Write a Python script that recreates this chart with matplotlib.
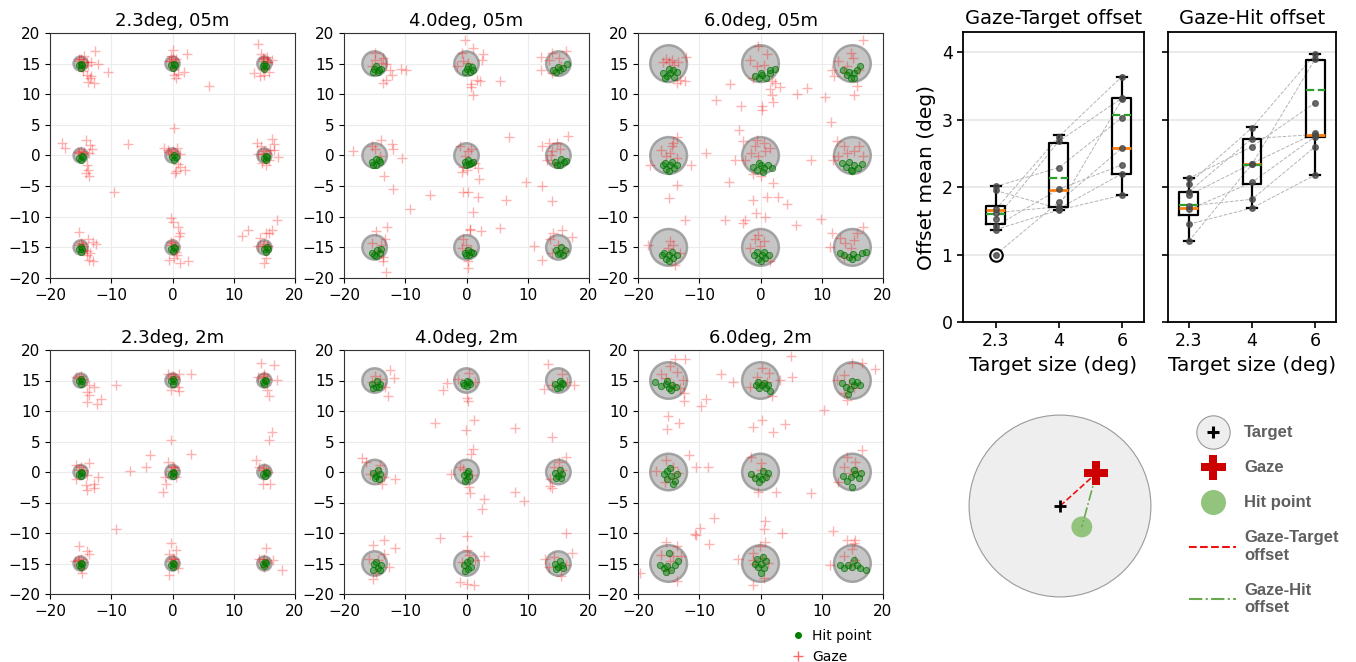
import matplotlib
matplotlib.use("Agg")
import matplotlib.pyplot as plt
from matplotlib.patches import Circle
from matplotlib.lines import Line2D
from matplotlib.legend_handler import HandlerTuple

# ---------------- scatter panels ----------------
target_x = [-15, 0, 15, -15, 0, 15, -15, 0, 15]
target_y = [15, 15, 15, 0, 0, 0, -15, -15, -15]
panel_titles = ["2.3deg, 05m", "4.0deg, 05m", "6.0deg, 05m",
                "2.3deg, 2m", "4.0deg, 2m", "6.0deg, 2m"]
panel_sizes = [2.3, 4.0, 6.0, 2.3, 4.0, 6.0]

gaze_23_05 = [
    (-15.2, 15.4), (-14.6, 15.2), (-15.0, 15.8), (-14.5, 16.3), (-15.3, 15.8), (-14.0, 15.2),
    (-13.8, 14.7), (-14.8, 14.5), (-12.6, 17.1), (-12.2, 15.0), (-13.3, 15.3), (-14.0, 13.2),
    (-13.3, 13.0), (-13.8, 12.0), (-12.8, 11.8), (-13.5, 12.6), (-10.5, 13.7), (-14.6, 13.8),
    (-0.2, 15.4), (0.4, 15.2), (0.0, 15.7), (0.1, 17.2), (-0.3, 16.2), (0.5, 15.8), (2.4, 16.6),
    (0.2, 14.2), (0.3, 13.1), (0.9, 13.3), (1.8, 13.7), (0.6, 12.7), (-0.5, 15.5), (6.0, 11.3),
    (14.8, 15.4), (15.4, 15.3), (15.0, 15.7), (14.0, 18.2), (14.4, 16.6), (15.5, 16.0),
    (16.2, 15.6), (13.3, 13.4), (14.3, 13.0), (15.0, 13.2), (15.8, 13.6), (14.8, 14.2),
    (15.6, 15.2), (14.7, 15.9),
    (-15.2, 0.4), (-14.6, 0.3), (-14.9, 0.8), (-18.0, 2.0), (-17.5, 1.3), (-14.2, 2.6),
    (-13.5, 1.7), (-14.0, -1.6), (-13.8, -2.3), (-14.1, -2.9), (-13.6, -3.3), (-14.5, 0.6),
    (-13.6, 0.4), (-15.5, 0.6), (-7.3, 1.8), (-9.6, -5.9), (-13.2, 1.1),
    (-0.2, 0.2), (0.4, 0.4), (0.1, 0.8), (0.2, 4.5), (-1.4, 1.3), (-0.8, 0.9), (0.8, 1.2),
    (1.2, 0.3), (0.9, -1.4), (0.6, -2.6), (0.4, -2.9), (1.3, -1.8), (2.0, -2.3), (-0.5, 0.5),
    (14.8, 0.3), (15.3, 0.4), (15.0, 0.7), (13.8, 2.1), (14.5, 1.5), (16.2, 2.7), (16.5, 1.8),
    (15.9, 0.9), (17.3, -0.2), (14.6, -1.3), (15.2, -1.6), (15.7, -0.8), (14.0, 0.2), (16.6, 0.9),
    (-15.2, -14.6), (-14.6, -14.8), (-15.0, -14.3), (-15.3, -12.5), (-13.8, -13.7),
    (-13.0, -14.2), (-12.5, -14.5), (-13.9, -15.6), (-14.0, -16.3), (-13.7, -17.0),
    (-12.9, -17.3), (-14.8, -14.4), (-14.5, -15.5), (-13.5, -16.0),
    (-0.2, -14.6), (0.4, -14.8), (0.0, -14.3), (-0.2, -10.2), (0.0, -10.8), (0.9, -11.7),
    (1.3, -12.6), (1.0, -13.1), (-0.2, -14.2), (0.5, -15.7), (0.3, -16.8), (-0.5, -17.1),
    (1.2, -17.5), (2.5, -17.3), (0.7, -16.2),
    (14.8, -14.7), (15.4, -14.8), (15.0, -14.4), (17.0, -10.6), (16.3, -12.2), (15.8, -12.6),
    (12.3, -12.2), (11.3, -13.1), (14.3, -13.5), (15.3, -12.6), (13.9, -14.7), (15.0, -17.6),
    (15.3, -16.7), (15.6, -14.8),
]
hit_23_05 = [
    (-15.3, 14.7), (-14.7, 14.8), (-15.0, 14.3), (-14.9, 15.0),
    (-0.2, 14.7), (0.4, 14.8), (0.1, 14.3), (0.2, 15.0),
    (14.7, 14.6), (15.2, 14.6), (14.9, 14.2), (15.0, 14.9),
    (-15.2, -0.4), (-14.6, -0.3), (-14.9, -0.8), (-14.8, -0.1),
    (-0.1, -0.3), (0.5, -0.2), (0.2, -0.7), (0.3, 0.0),
    (14.9, -0.4), (15.5, -0.3), (15.2, -0.8), (15.3, -0.1),
    (-15.3, -15.3), (-14.7, -15.2), (-15.0, -15.7), (-14.9, -15.0),
    (-0.2, -15.2), (0.4, -15.1), (0.1, -15.6), (0.2, -14.9),
    (15.0, -15.3), (15.6, -15.2), (15.3, -15.7), (15.4, -15.0),
]

gaze_40_05 = [
    (-14.9, 16.7), (-13.7, 15.9), (-13.2, 14.9), (-12.5, 13.9), (-12.2, 13.2), (-13.1, 12.4),
    (-13.6, 11.9), (-10.7, 14.1), (-9.8, 14.0), (-14.9, 15.6), (-14.0, 15.1), (-15.5, 14.6),
    (-0.2, 18.8), (1.1, 17.6), (2.7, 16.5), (2.5, 15.6), (-0.6, 15.4), (-1.6, 14.6), (1.7, 12.4),
    (2.2, 12.1), (0.8, 11.6), (1.0, 9.9), (0.7, 11.2), (5.4, 12.2), (0.3, 15.1), (-0.8, 16.7),
    (12.1, 16.1), (13.9, 16.8), (15.1, 15.9), (16.3, 17.0), (12.1, 14.0), (13.9, 13.5),
    (13.4, 15.6), (15.5, 14.6),
    (-18.6, 0.7), (-14.0, 2.6), (-12.2, 1.9), (-12.0, 1.1), (-10.5, -0.4), (-13.4, -3.3),
    (-12.0, -5.4), (-9.3, -8.8), (-6.0, -6.4), (-14.9, 1.0), (-14.1, -0.1), (-15.5, 1.5),
    (-1.0, 1.5), (0.8, 1.0), (-0.5, -1.8), (-0.7, -2.7), (0.0, -2.3), (1.4, -1.2), (1.8, -2.0),
    (2.0, -3.9), (-0.5, -6.0), (0.3, -6.0), (1.8, -6.7), (1.0, -9.2), (0.5, -12.1), (2.4, -12.3),
    (5.5, -11.9), (6.9, 3.1), (6.4, -7.2), (9.7, -4.4), (12.4, -4.9), (13.9, -7.4), (16.6, 3.2),
    (-0.2, -0.1), (0.3, 0.7),
    (12.3, 1.5), (13.4, 2.0), (14.7, 2.0), (15.2, 1.0), (13.8, 0.1), (13.1, -0.7), (14.3, -1.2),
    (14.0, 0.7),
    (-14.8, -12.4), (-13.0, -11.7), (-13.3, -13.6), (-14.0, -14.6), (-13.6, -16.5),
    (-13.7, -17.3), (-13.2, -19.1), (-15.4, -14.3), (-14.4, -15.6),
    (0.5, -12.0), (-0.5, -13.7), (-0.1, -14.6), (0.7, -15.4), (0.3, -17.3), (0.3, -18.4),
    (-0.8, -15.1),
    (11.1, -14.7), (12.3, -17.0), (13.7, -13.7), (14.2, -12.6), (15.6, -12.1), (17.2, -13.3),
    (15.0, -14.6), (16.1, -15.6), (13.9, -15.9),
]
hit_40_05 = [
    (-15.1, 14.2), (-14.5, 13.6), (-14.0, 14.1), (-14.8, 14.6), (-15.3, 13.7), (-14.3, 13.9),
    (0.0, 14.2), (0.6, 13.6), (1.1, 14.0), (0.3, 14.6), (-0.2, 13.7), (0.9, 14.4),
    (14.6, 13.7), (15.2, 13.9), (15.8, 14.3), (16.4, 14.9), (15.0, 14.4), (14.2, 13.9),
    (-15.4, -1.0), (-14.8, -1.5), (-14.2, -1.1), (-14.7, -0.6), (-15.2, -1.6), (-14.3, -0.8),
    (-0.3, -1.0), (0.4, -1.4), (1.0, -1.0), (0.2, -0.7), (-0.1, -1.5), (0.8, -1.3),
    (14.5, -1.0), (15.2, -1.5), (15.9, -1.1), (15.4, -0.5), (14.8, -1.6), (16.2, -0.9),
    (-15.4, -16.0), (-14.8, -16.4), (-14.2, -16.0), (-14.6, -15.5), (-15.1, -16.3), (-14.0, -15.3),
    (-0.3, -15.9), (0.4, -16.3), (1.0, -16.0), (0.2, -15.5), (-0.1, -16.2), (0.8, -15.7),
    (14.6, -15.5), (15.3, -15.9), (16.0, -15.5), (15.5, -15.0), (14.9, -16.1), (15.8, -16.2),
]

gaze_60_05 = [
    (-15.5, 15.8), (-14.5, 15.6), (-15.0, 15.2), (-14.2, 14.8), (-13.5, 15.2), (-16.0, 15.3),
    (-13.6, 11.8), (-12.4, 12.1), (-13.2, 12.4), (-12.1, 16.1),
    (-0.4, 17.8), (-1.7, 15.6), (0.5, 14.8), (-0.6, 14.6), (1.0, 16.5), (-1.3, 12.7), (1.8, 12.1),
    (2.4, 11.8), (3.2, 11.2), (-5.0, 11.6), (-7.3, 9.0), (-3.2, 8.0), (1.8, 9.8), (2.1, 8.8),
    (0.2, 8.1), (0.3, 7.4), (5.9, 10.0), (7.6, 11.0), (10.5, 9.5), (11.5, 5.4), (1.6, 10.8),
    (14.7, 16.8), (16.8, 18.8), (12.7, 15.4), (14.1, 14.6), (11.6, 14.0), (12.0, 12.9),
    (13.6, 13.6), (15.1, 15.9), (15.7, 11.3), (15.2, 9.8), (16.0, 13.9),
    (-14.8, 0.4), (-14.5, 1.5), (-15.4, -0.1), (-16.2, 0.9), (-13.7, -0.4), (-18.1, -1.5),
    (-11.4, -1.5), (-13.7, 3.0), (-13.7, -4.8), (-15.0, -7.0), (-12.4, -10.6), (-8.9, 0.4),
    (-14.3, 2.0),
    (-3.5, 4.1), (-2.9, 2.4), (-1.6, 0.4), (-0.9, 1.5), (0.5, 2.1), (1.6, 1.2), (-0.4, -0.1),
    (-4.1, -0.7), (-2.6, -0.8), (-1.2, -3.1), (0.0, -3.3), (2.1, -4.5), (-5.1, -4.4), (1.0, -6.8),
    (2.8, -6.7), (4.3, -7.9), (-1.2, -7.2), (-0.7, -9.4), (0.8, -10.0), (-2.6, -10.5),
    (-2.9, -11.1), (-5.8, -10.5), (5.8, -11.4), (9.9, -10.4), (8.3, -0.8), (-0.6, 2.6), (0.7, 0.7),
    (12.5, 2.3), (13.6, 1.5), (14.1, 0.4), (12.7, -0.1), (15.2, 0.7), (16.0, 1.5), (11.9, -0.7),
    (16.8, -0.1),
    (-18.4, -14.6), (-14.8, -14.0), (-15.1, -15.1), (-14.3, -14.6), (-13.2, -15.9), (-14.0, -17.8),
    (-0.4, -12.9), (-0.9, -13.7), (0.5, -14.0), (-0.1, -14.8), (-1.7, -15.1), (1.5, -17.3),
    (11.6, -12.7), (11.4, -14.9), (13.0, -13.5), (13.8, -14.3), (14.7, -15.1), (15.7, -12.7),
    (16.8, -11.6), (13.6, -16.5), (15.2, -13.8),
]
hit_60_05 = [
    (-16.0, 13.5), (-15.3, 12.9), (-14.7, 13.4), (-14.1, 12.8), (-13.6, 13.6), (-15.0, 14.1),
    (-14.3, 14.0), (-15.6, 12.6),
    (-0.9, 12.9), (-0.3, 12.6), (0.3, 13.1), (0.9, 12.7), (1.5, 13.4), (2.3, 14.1), (0.0, 13.4),
    (1.6, 14.0),
    (13.5, 13.9), (14.1, 13.1), (14.7, 12.7), (15.2, 13.4), (15.8, 13.9), (16.2, 14.6),
    (14.4, 13.6), (15.3, 12.6),
    (-16.0, -1.6), (-15.4, -2.2), (-14.8, -1.5), (-14.2, -2.0), (-13.6, -1.6), (-15.0, -2.5),
    (-14.4, -1.1), (-15.6, -1.2),
    (-1.3, -1.8), (-0.6, -2.3), (0.0, -1.6), (0.6, -2.1), (1.2, -1.5), (1.9, -2.0), (0.4, -2.7),
    (-0.2, -1.2),
    (13.3, -1.2), (14.0, -1.8), (14.7, -2.3), (15.3, -1.6), (15.9, -2.0), (16.6, -1.4),
    (15.0, -2.6), (14.4, -1.0),
    (-16.1, -16.3), (-15.5, -16.9), (-14.9, -16.2), (-14.3, -16.8), (-13.7, -16.3),
    (-15.0, -17.3), (-14.5, -15.8), (-15.7, -15.9),
    (-1.0, -16.3), (-0.4, -16.9), (0.2, -16.2), (0.8, -16.7), (1.4, -16.3), (0.0, -17.3),
    (0.6, -15.8), (-0.6, -15.8),
    (12.9, -16.0), (13.7, -16.2), (14.4, -16.6), (15.1, -16.1), (15.8, -16.5), (16.5, -16.0),
    (17.3, -15.8), (15.0, -16.9),
]

gaze_23_2 = [
    (-15.2, 15.4), (-14.6, 15.3), (-15.0, 15.8), (-13.6, 14.3), (-12.8, 13.9), (-14.0, 13.1),
    (-13.6, 12.7), (-14.0, 11.4), (-11.7, 12.0), (-12.3, 11.2), (-9.2, 14.3), (-14.7, 14.7),
    (-15.7, 15.5),
    (-0.2, 15.4), (0.4, 15.3), (0.0, 15.8), (-0.8, 16.1), (1.1, 16.1), (3.1, 16.1), (-0.2, 13.4),
    (1.0, 13.2), (0.9, 13.9), (0.3, 15.5),
    (14.8, 15.4), (15.4, 15.3), (15.0, 15.8), (14.4, 17.9), (16.5, 17.6), (17.1, 15.1),
    (15.5, 13.4), (15.7, 12.4), (14.0, 15.5), (15.0, 16.1),
    (-15.2, 0.4), (-14.6, 0.3), (-14.9, 0.8), (-15.7, -1.1), (-14.0, -0.5), (-14.2, -2.1),
    (-14.0, -3.0), (-12.8, -1.9), (-12.2, -0.8), (-12.8, -2.7), (-13.6, 1.4), (-15.7, 1.2),
    (-0.2, 0.2), (0.4, 0.4), (0.1, 0.8), (-6.9, 0.2), (-4.3, 0.8), (-3.7, 2.8), (-0.3, 5.2),
    (3.0, 3.0), (-0.8, 1.6), (-1.0, -1.9), (-1.6, -3.2), (-1.3, -0.8), (0.6, -0.8), (0.3, 0.8),
    (14.8, 0.3), (15.3, 0.4), (15.0, 0.7), (13.7, 1.9), (15.6, 0.0), (15.9, -1.9), (14.8, -1.9),
    (15.7, 5.3), (16.2, 6.5), (14.2, 0.8),
    (-9.2, -9.4),
    (-15.2, -14.6), (-14.6, -14.7), (-15.0, -14.3), (-15.2, -12.2), (-14.0, -13.0),
    (-13.7, -13.4), (-15.4, -14.4), (-14.7, -16.6), (-14.9, -15.8), (-15.9, -14.6),
    (-0.2, -14.6), (0.4, -14.7), (0.0, -14.3), (-0.2, -11.6), (0.6, -12.8), (-0.5, -13.4),
    (0.3, -14.2), (-0.5, -16.9), (0.9, -15.8),
    (14.8, -14.6), (15.4, -14.7), (15.0, -14.3), (15.3, -12.5), (14.2, -14.2), (16.4, -14.4),
    (17.9, -16.0), (15.0, -15.5),
]
hit_23_2 = [
    (-15.3, 14.9), (-14.7, 15.0), (-15.0, 14.5), (-14.9, 15.2),
    (-0.3, 14.9), (0.3, 15.0), (0.0, 14.5), (0.1, 15.2),
    (14.7, 14.8), (15.3, 14.9), (15.0, 14.4), (15.1, 15.1),
    (-15.3, -0.3), (-14.7, -0.2), (-15.0, -0.7), (-14.9, 0.0),
    (-0.3, -0.3), (0.3, -0.2), (0.0, -0.7), (0.1, 0.0),
    (14.8, -0.3), (15.4, -0.2), (15.1, -0.7), (15.2, 0.0),
    (-15.3, -15.2), (-14.7, -15.1), (-15.0, -15.6), (-14.9, -14.9),
    (-0.3, -15.2), (0.3, -15.1), (0.0, -15.6), (0.1, -14.9),
    (14.7, -15.0), (15.3, -14.9), (15.0, -15.4), (15.1, -14.7),
]

gaze_40_2 = [
    (-12.5, 16.7), (-11.8, 15.4), (-13.3, 13.9), (-12.8, 12.5), (-14.1, 15.3), (-14.9, 15.8),
    (-15.5, 14.7),
    (-3.2, 14.6), (-3.8, 13.4), (0.4, 16.2), (-1.4, 15.3), (1.4, 14.7), (0.1, 12.1), (0.2, 11.6),
    (1.2, 8.6), (-0.1, 6.9), (-5.2, 8.1), (7.9, 7.2), (14.0, 5.8),
    (13.3, 17.7), (12.6, 13.6), (14.0, 14.2), (17.6, 14.3), (15.6, 16.1), (16.4, 14.7),
    (-17.1, 2.3), (-16.4, 1.6), (-15.7, -0.3), (-14.1, 1.1), (-13.5, -0.8), (-13.8, -1.9),
    (-11.7, -1.2), (-14.6, 0.0),
    (1.1, 3.7), (0.8, 3.0), (-2.5, -0.4), (-1.0, 0.8), (0.9, -0.5), (0.4, -2.5), (0.5, -3.4),
    (2.8, -4.4), (2.6, -6.0), (-4.3, -10.9), (0.1, -10.5), (7.9, -3.3), (9.4, -4.7), (-0.5, 0.5),
    (16.2, 2.5), (15.1, 1.6), (13.7, -1.1), (13.6, -2.3), (14.0, -2.7), (15.6, 0.3), (14.3, 0.8),
    (-15.2, -12.0), (-13.5, -11.2), (-11.7, -12.4), (-13.5, -13.5), (-16.0, -14.3),
    (-12.7, -15.5), (-15.2, -17.6), (-14.8, -16.6), (-14.4, -14.4),
    (0.1, -12.8), (-0.7, -14.7), (1.4, -14.4), (-1.0, -18.0), (0.1, -18.3), (1.2, -18.6),
    (2.9, -13.8), (0.4, -13.6),
    (16.2, -10.0), (17.2, -13.2), (12.8, -14.3), (14.3, -13.9), (15.5, -17.1), (16.2, -15.3),
    (13.4, -15.5),
]
hit_40_2 = [
    (-15.4, 14.5), (-14.8, 14.0), (-14.2, 14.4), (-14.6, 14.9), (-15.2, 13.8), (-14.3, 13.9),
    (-0.6, 14.6), (0.0, 14.1), (0.5, 14.5), (0.1, 15.0), (-0.4, 14.2), (0.4, 14.8),
    (14.5, 14.5), (15.2, 14.0), (15.8, 14.4), (15.3, 14.9), (14.8, 13.8), (15.6, 14.6),
    (-15.3, -0.1), (-14.7, -0.7), (-14.1, -0.3), (-14.5, 0.3), (-15.0, -1.0), (-14.3, -1.2),
    (-0.4, -0.5), (0.1, -1.1), (0.4, -0.6), (0.0, -0.1), (-0.2, -1.4), (0.3, 0.2),
    (14.4, -0.1), (15.0, -0.7), (15.6, -0.3), (15.2, 0.3), (14.6, -1.0), (15.4, -1.0),
    (-15.1, -15.1), (-14.5, -15.7), (-13.9, -15.3), (-14.7, -14.7), (-15.2, -16.0), (-14.1, -16.0),
    (-0.4, -15.3), (0.2, -15.9), (0.7, -15.5), (0.1, -14.8), (-0.2, -16.3), (0.5, -14.4),
    (14.4, -15.0), (15.0, -15.6), (15.6, -15.2), (15.2, -14.6), (14.6, -15.9), (15.7, -15.8),
]

gaze_60_2 = [
    (-14.0, 18.6), (-12.4, 18.5), (-14.8, 17.3), (-16.2, 16.0), (-13.7, 16.4), (-12.6, 15.1),
    (-13.2, 13.7), (-12.5, 12.9), (-12.5, 11.6), (-14.3, 14.3), (-15.4, 15.4), (-15.1, 9.1),
    (-13.3, 8.1), (-15.2, 7.0), (-8.9, 12.0), (-9.7, 10.8), (-6.4, 16.0), (-4.5, 14.7),
    (0.2, 17.1), (1.4, 16.2), (-0.6, 15.6), (1.0, 14.8), (1.8, 12.4), (3.2, 15.1), (5.0, 19.0),
    (5.1, 15.5), (0.2, 8.5), (-1.2, 7.3), (2.1, 6.5), (4.0, 7.8), (10.3, 10.2), (-0.1, 14.5),
    (-1.7, 14.0),
    (14.9, 17.8), (16.6, 17.8), (18.7, 16.9), (13.6, 15.9), (12.5, 15.1), (15.2, 13.7),
    (13.6, 12.9), (14.1, 11.8), (14.4, 14.5),
    (-17.0, 0.1), (-15.4, 2.0), (-14.3, 0.9), (-14.5, -1.0), (-11.6, 2.8), (-10.6, 0.9),
    (-8.5, 0.9), (-13.5, -0.2), (-15.6, -1.6),
    (-1.5, 2.5), (0.1, 1.4), (0.0, 0.4), (1.0, -0.7), (-1.2, -0.7), (-0.4, -3.2), (2.6, -3.2),
    (8.3, -3.5), (16.5, 3.6), (0.7, -8.1), (0.6, -9.3), (3.5, -10.0), (-7.6, -7.5), (-9.8, -9.1),
    (-10.5, -10.3), (-10.7, -10.2), (-8.4, -11.8), (0.7, -11.4), (-3.6, -14.3), (-1.2, -14.4),
    (-19.7, -16.5), (11.9, -9.7), (15.5, -11.1), (11.4, -15.2),
    (14.1, 2.5), (15.5, 1.7), (13.6, 0.9), (14.6, -0.2), (12.7, -1.6), (15.7, 0.1),
    (-15.4, -11.4), (-13.7, -12.2), (-16.2, -13.6), (-14.3, -13.8), (-12.9, -13.8),
    (-15.1, -16.0), (-13.6, -17.9), (-14.8, -14.6),
    (-0.1, -12.2), (-1.2, -13.3), (0.2, -14.1), (-0.9, -15.1), (1.3, -14.9), (-1.3, -18.5),
    (0.5, -17.4),
    (14.1, -11.1), (14.9, -12.7), (13.6, -13.8), (15.5, -14.4), (15.2, -11.7), (14.6, -15.2),
]
hit_60_2 = [
    (-17.2, 14.8), (-16.2, 14.1), (-15.5, 14.4), (-14.9, 13.8), (-14.4, 14.3), (-13.8, 14.0),
    (-15.2, 14.9), (-14.6, 13.4),
    (-0.8, 14.3), (-0.2, 13.8), (0.3, 14.2), (0.9, 13.7), (1.5, 13.2), (0.6, 14.6), (-0.4, 14.8),
    (1.2, 14.3),
    (13.3, 14.6), (14.0, 14.0), (14.6, 13.6), (15.2, 14.2), (15.8, 14.8), (16.3, 14.3),
    (14.3, 12.8), (15.0, 15.0),
    (-15.8, -0.4), (-15.2, -1.2), (-14.6, -0.6), (-14.0, -1.4), (-13.6, -0.3), (-14.8, 0.6),
    (-14.3, -2.0), (-15.3, 0.2),
    (-1.5, -0.4), (-0.9, -1.0), (-0.3, -0.6), (0.3, -1.2), (0.9, -0.8), (1.3, -0.2), (-0.2, -1.7),
    (0.4, 0.2),
    (13.5, -0.6), (14.2, -1.4), (14.8, -0.8), (15.4, -0.4), (16.0, -1.0), (16.4, -0.2),
    (14.9, -2.4), (15.3, 0.4),
    (-16.4, -15.2), (-15.8, -15.8), (-15.2, -15.4), (-14.6, -16.0), (-14.0, -15.3),
    (-13.5, -14.6), (-15.0, -13.2), (-15.5, -16.4),
    (-0.9, -15.0), (-0.4, -15.6), (0.1, -15.1), (0.6, -15.7), (0.9, -14.6), (0.0, -16.6),
    (-0.5, -14.2), (0.4, -14.0),
    (12.9, -15.3), (13.6, -15.8), (14.3, -15.2), (15.0, -15.6), (15.7, -15.3), (16.3, -15.8),
    (17.2, -16.0), (15.2, -14.4),
]

panel_gaze = [gaze_23_05, gaze_40_05, gaze_60_05, gaze_23_2, gaze_40_2, gaze_60_2]
panel_hits = [hit_23_05, hit_40_05, hit_60_05, hit_23_2, hit_40_2, hit_60_2]

# ---------------- box plots (per participant means) ----------------
size_labels = ["2.3", "4", "6"]
gt_23 = [2.01, 1.95, 1.67, 1.53, 1.42, 1.37, 1.00, 1.62]
gt_40 = [2.29, 1.68, 2.75, 2.68, 1.97, 1.66, 1.78, 1.71]
gt_60 = [3.03, 2.20, 3.64, 3.32, 2.33, 1.88, 2.58, 3.30]
gt_med = [1.66, 1.96, 2.58]
gt_q1 = [1.45, 1.71, 2.20]
gt_q3 = [1.72, 2.66, 3.32]
gt_lo = [1.37, 1.66, 1.88]
gt_hi = [2.01, 2.77, 3.64]
gt_mean = [1.60, 2.13, 3.07]
gt_fliers = [[1.00], [], []]

gh_23 = [2.13, 2.05, 1.88, 1.72, 1.67, 1.45, 1.20, 1.93]
gh_40 = [2.60, 2.88, 2.35, 1.82, 2.07, 1.69, 2.34, 2.72]
gh_60 = [3.25, 3.97, 2.80, 2.60, 2.75, 2.18, 3.90, 2.78]
gh_med = [1.69, 2.34, 2.78]
gh_q1 = [1.58, 2.04, 2.74]
gh_q3 = [1.93, 2.71, 3.89]
gh_lo = [1.20, 1.69, 2.18]
gh_hi = [2.13, 2.89, 3.98]
gh_mean = [1.73, 2.33, 3.44]
gh_fliers = [[], [], []]

# ---------------- schematic ----------------
diag_target = (0.0, 0.0)
diag_gaze = (0.40, 0.36)
diag_hit = (0.24, -0.23)
diag_radius = 1.0
diag_hit_radius = 0.115

W, H = 1356, 662
fig = plt.figure(figsize=(W / 100, H / 100), dpi=100)

col_left = [50, 344, 638]
for i in range(6):
    r, c = divmod(i, 3)
    if r == 0:
        ax = fig.add_axes([col_left[c] / W, (H - 278) / H, 245 / W, 245 / H])
    else:
        ax = fig.add_axes([col_left[c] / W, (H - 594) / H, 245 / W, 244 / H])
    rad = panel_sizes[i] / 2
    for tx, ty in zip(target_x, target_y):
        ax.add_patch(Circle((tx, ty), rad, facecolor="#b8b8b8", edgecolor="#939393",
                            lw=1.8, alpha=0.8, zorder=1))
    gx = [p[0] for p in panel_gaze[i]]
    gy = [p[1] for p in panel_gaze[i]]
    hx = [p[0] for p in panel_hits[i]]
    hy = [p[1] for p in panel_hits[i]]
    ax.plot(gx, gy, "+", color="red", alpha=0.3, ms=7, mew=1.0, zorder=3)
    ax.plot(hx, hy, "o", ms=4.5, mfc=(0.0, 0.5, 0.0, 0.45), mec=(0.0, 0.45, 0.0, 0.7),
            mew=0.7, ls="none", zorder=4)
    ax.set_xlim(-20, 20)
    ax.set_ylim(-20, 20)
    ax.set_xticks([-20, -10, 0, 10, 20])
    ax.set_yticks(range(-20, 21, 5))
    ax.tick_params(labelsize=11, length=3.5)
    ax.grid(True, color="#ececec", lw=0.8)
    ax.set_axisbelow(True)
    ax.set_title(panel_titles[i], fontsize=13, pad=5)
    for s in ax.spines.values():
        s.set_color("#333333")

fig.legend(handles=[Line2D([], [], marker="o", ls="none", color="green", ms=4),
                    Line2D([], [], marker="+", ls="none", color="red", alpha=0.6, ms=7)],
           labels=["Hit point", "Gaze"], loc="upper left",
           bbox_to_anchor=(784 / W, 1 - 622 / H), frameon=False, fontsize=10,
           handlelength=1.0, handletextpad=0.5, labelspacing=0.5, borderpad=0)


def box_panel(ax, vals, med, q1, q3, lo, hi, mean, fliers, title):
    stats = [dict(med=med[k], q1=q1[k], q3=q3[k], whislo=lo[k], whishi=hi[k],
                  mean=mean[k], fliers=fliers[k]) for k in range(3)]
    pos = [1, 2, 3]
    for p in range(len(vals[0])):
        ax.plot(pos, [vals[0][p], vals[1][p], vals[2][p]], ls="--", color="#b5b5b5",
                lw=0.7, zorder=1)
    ax.bxp(stats, positions=pos, widths=0.3, showmeans=True, meanline=True,
           capwidths=0.15,
           boxprops=dict(color="black", lw=1.6),
           whiskerprops=dict(color="black", lw=1.6),
           capprops=dict(color="black", lw=1.6),
           medianprops=dict(color="#ff7f0e", lw=2),
           meanprops=dict(color="#2ca02c", ls="--", lw=1.6),
           flierprops=dict(marker="o", mfc="none", mec="black", ms=9, mew=1.5),
           zorder=2)
    for k in range(3):
        ax.plot([pos[k]] * len(vals[k]), vals[k], "o", color="#4a4a4a", ms=4, alpha=0.8,
                ls="none", zorder=3)
    ax.set_ylim(0, 4.3)
    ax.set_yticks([0, 1, 2, 3, 4])
    ax.set_xticks(pos)
    ax.set_xticklabels(size_labels)
    ax.yaxis.grid(True, color="#e6e6e6", lw=1.2)
    ax.set_axisbelow(True)
    ax.tick_params(labelsize=12.5, length=4, width=1.2)
    ax.set_xlabel("Target size (deg)", fontsize=14.5)
    ax.set_title(title, fontsize=14, pad=6)
    for s in ax.spines.values():
        s.set_linewidth(1.3)


ax_gt = fig.add_axes([963 / W, (H - 322) / H, 181 / W, 290 / H])
box_panel(ax_gt, [gt_23, gt_40, gt_60], gt_med, gt_q1, gt_q3, gt_lo, gt_hi, gt_mean,
          gt_fliers, "Gaze-Target offset")
ax_gt.set_xlim(0.48, 3.35)
ax_gt.set_ylabel("Offset mean (deg)", fontsize=14.5)

ax_gh = fig.add_axes([1168 / W, (H - 322) / H, 168 / W, 290 / H])
box_panel(ax_gh, [gh_23, gh_40, gh_60], gh_med, gh_q1, gh_q3, gh_lo, gh_hi, gh_mean,
          gh_fliers, "Gaze-Hit offset")
ax_gh.set_xlim(0.67, 3.33)
ax_gh.set_yticklabels([])

# schematic of target / gaze / hit
axd = fig.add_axes([960 / W, (H - 606) / H, 200 / W, 200 / H])
axd.set_xlim(-1.1, 1.1)
axd.set_ylim(-1.1, 1.1)
axd.axis("off")
axd.add_patch(Circle(diag_target, diag_radius, facecolor="#eeeeee", edgecolor="#9a9a9a", lw=0.8))
axd.add_patch(Circle(diag_hit, diag_hit_radius, facecolor="#93c47d", edgecolor="none", zorder=2))
axd.plot([diag_target[0], diag_gaze[0]], [diag_target[1], diag_gaze[1]], ls="--",
         color="#ee1111", lw=1.2, zorder=3)
axd.plot([diag_gaze[0], diag_hit[0]], [diag_gaze[1], diag_hit[1]], ls="-.",
         color="#6aa84f", lw=1.2, zorder=3)
axd.plot(*diag_target, marker="+", color="black", ms=8, mew=2, zorder=4)
axd.plot(*diag_gaze, marker="P", color="#cc0000", ms=17, mew=0, zorder=5)

h_target = (Line2D([], [], marker="o", ls="none", ms=24, mfc="#eeeeee", mec="#9a9a9a", mew=0.8),
            Line2D([], [], marker="+", ls="none", ms=9, color="black", mew=2.2))
h_gaze = Line2D([], [], marker="P", ls="none", ms=18, color="#cc0000", mew=0)
h_hit = Line2D([], [], marker="o", ls="none", ms=17, color="#93c47d")
h_gt = Line2D([], [], ls="--", color="#ee1111", lw=1.5)
h_gh = Line2D([], [], ls="-.", color="#6aa84f", lw=1.5)
fig.legend(handles=[h_target, h_gaze, h_hit, h_gt, h_gh],
           labels=["Target", "Gaze", "Hit point", "Gaze-Target\noffset", "Gaze-Hit\noffset"],
           handler_map={tuple: HandlerTuple(ndivide=1)},
           loc="upper left", bbox_to_anchor=(1181 / W, 1 - 417 / H), frameon=False,
           prop=dict(family="Liberation Sans", weight="bold", size=12), labelcolor="#5f5f5f",
           handlelength=2.8, handletextpad=0.5, labelspacing=1.2, borderpad=0)

fig.savefig("out.png", dpi=100)
